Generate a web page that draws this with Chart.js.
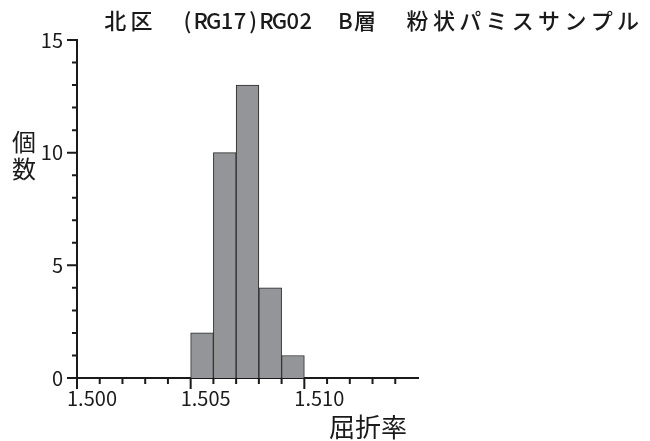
<!DOCTYPE html>
<html>
<head>
<meta charset="utf-8">
<script src="https://cdn.jsdelivr.net/npm/chart.js@4/dist/chart.umd.min.js"></script>
<style>
  html, body { margin: 0; padding: 0; background: #fff; }
  #wrap { width: 650px; height: 441px; }
</style>
</head>
<body>
<div id="wrap"><canvas id="myChart"></canvas></div>
<script>
const chartTitle = '北区　(RG17)RG02　B層　粉状パミスサンプル';
const yTitle = ['個', '数'];
const xTitle = '屈折率';
const binStarts = [1.505, 1.506, 1.507, 1.508, 1.509];
const binWidth = 0.001;
const counts = [2, 10, 13, 4, 1];
const xMin = 1.500, xMax = 1.515;
const yMin = 0, yMax = 15;

const FONT = '"Noto Sans CJK JP", "Noto Sans", sans-serif';
const INK = '#1a1a1a';

// the title is set in a fixed-pitch way: full-width cell, half-width for ascii
function drawMono(ctx, text, x, y, cell) {
    ctx.textAlign = 'center';
    for (const ch of text) {
        const w = ch.charCodeAt(0) < 0x2000 ? cell / 2 : cell;
        ctx.fillText(ch, x + w / 2, y);
        x += w;
    }
}

// draws the ticks (minor short, major long), the title and the axis titles
const decor = {
    id: 'decor',
    afterDraw(chart) {
        const ctx = chart.ctx;
        const xs = chart.scales.x, ys = chart.scales.y;
        const area = chart.chartArea;
        ctx.save();
        ctx.strokeStyle = INK;
        ctx.lineWidth = 2;
        ctx.beginPath();
        xs.ticks.forEach(t => {
            const k = Math.round((t.value - xMin) * 1000);
            if (k >= 15) return;
            const px = xs.getPixelForValue(t.value);
            const len = (k % 5 === 0) ? 11 : 6;
            ctx.moveTo(px, area.bottom);
            ctx.lineTo(px, area.bottom + len);
        });
        ys.ticks.forEach(t => {
            const py = ys.getPixelForValue(t.value);
            const len = (Math.round(t.value) % 5 === 0) ? 10 : 5;
            ctx.moveTo(area.left, py);
            ctx.lineTo(area.left - len, py);
        });
        ctx.stroke();

        ctx.fillStyle = INK;
        ctx.textBaseline = 'middle';
        ctx.font = '500 22px ' + FONT;
        drawMono(ctx, chartTitle, 102, 21, 26.3);

        ctx.textAlign = 'center';
        ctx.font = '24px ' + FONT;
        ctx.fillText(yTitle[0], 24, 142);
        ctx.fillText(yTitle[1], 24, 169);

        ctx.font = '26px ' + FONT;
        ctx.fillText(xTitle, 368, 427);
        ctx.restore();
    }
};

new Chart('myChart', {
    type: 'bar',
    data: {
        datasets: [{
            data: binStarts.map((s, i) => ({ x: s + binWidth / 2, y: counts[i] })),
            backgroundColor: '#939598',
            borderColor: '#2a2a2a',
            borderWidth: 1,
            barPercentage: 1,
            categoryPercentage: 1
        }]
    },
    options: {
        responsive: true,
        maintainAspectRatio: false,
        animation: false,
        layout: { padding: { top: 40, right: 232, left: 0, bottom: 0 } },
        plugins: {
            legend: { display: false },
            tooltip: { enabled: false }
        },
        scales: {
            x: {
                type: 'linear',
                offset: false,
                min: xMin,
                max: xMax,
                afterFit: s => { s.height = 63; },
                grid: { display: false, drawTicks: false },
                border: { display: true, color: INK, width: 2 },
                ticks: {
                    stepSize: 0.001,
                    autoSkip: false,
                    maxRotation: 0,
                    padding: 8,
                    labelOffset: 15,
                    color: INK,
                    font: { family: FONT, size: 20 },
                    callback: function (value) {
                        const k = Math.round((value - xMin) * 1000);
                        return (k % 5 === 0 && k < 15) ? value.toFixed(3) : '';
                    }
                }
            },
            y: {
                min: yMin,
                max: yMax,
                afterFit: s => { s.width = 77; },
                grid: { display: false, drawTicks: false },
                border: { display: true, color: INK, width: 2 },
                ticks: {
                    stepSize: 1,
                    autoSkip: false,
                    padding: 14,
                    color: INK,
                    font: { family: FONT, size: 20 },
                    callback: function (value) {
                        return (value % 5 === 0) ? value : '';
                    }
                }
            }
        }
    },
    plugins: [decor]
});
</script>
</body>
</html>
